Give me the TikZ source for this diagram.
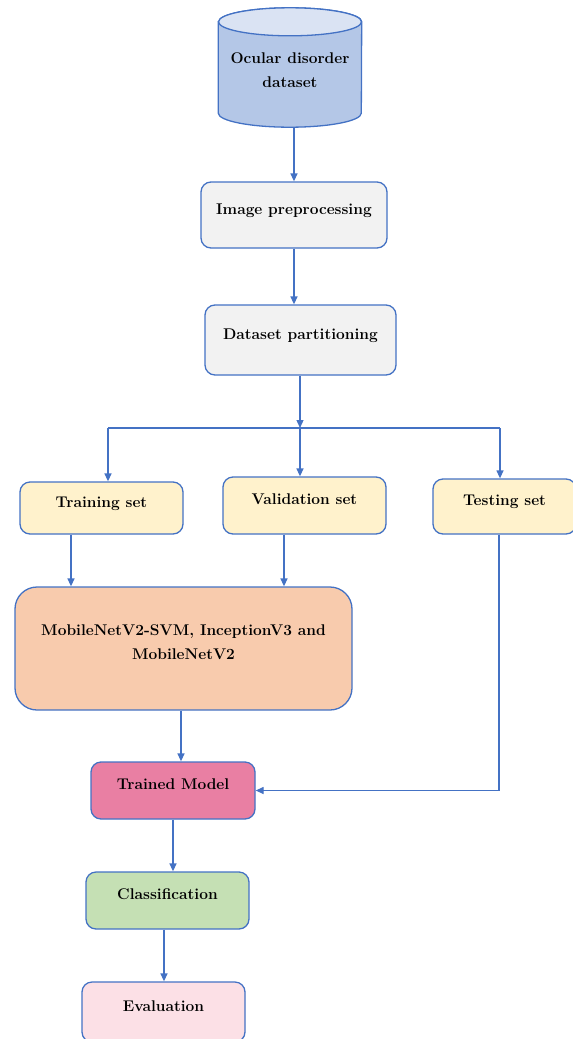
\documentclass[tikz,border=0pt]{standalone}
\usepackage{tikz}
\usetikzlibrary{arrows.meta,backgrounds}

\definecolor{lineblue}{HTML}{4472C4}
\definecolor{cylbody}{HTML}{B4C7E7}
\definecolor{cyltop}{HTML}{DAE3F3}
\definecolor{boxgray}{HTML}{F2F2F2}
\definecolor{boxyellow}{HTML}{FFF2CC}
\definecolor{boxpeach}{HTML}{F8CBAD}
\definecolor{boxpink}{HTML}{E97FA3}
\definecolor{boxgreen}{HTML}{C5E0B4}
\definecolor{boxrose}{HTML}{FCE0E6}

\begin{document}
\begin{tikzpicture}[x=1pt, y=-1pt,
  label font/.style={font=\fontsize{15.5}{24}\selectfont\bfseries},
  box/.style={draw=lineblue, line width=1.3pt, rounded corners=10pt, align=center, label font,
    execute at end node={\rule[-12pt]{0pt}{12pt}}},
  arr/.style={draw=lineblue, line width=1.3pt, -{Triangle[length=8pt,width=7pt]}},
  link/.style={draw=lineblue, line width=1.3pt}]
%\draw[help lines, step=50] (0, 0) grid (573, 1039);
\useasboundingbox (0, 0) rectangle (573, 1039);

% dataset cylinder
\node (data) [minimum width=143pt, minimum height=119pt, align=center, label font] at (290, 67.5)
  {\rule{0pt}{16pt}Ocular disorder\\dataset};
\begin{scope}[on background layer]
\filldraw [fill=cylbody, draw=lineblue, line width=1.3pt]
  ([yshift=-14pt]data.north west) -- ([yshift=14pt]data.south west)
  arc [start angle=180, end angle=360, x radius=71.5pt, y radius=14pt]
  -- ([yshift=-14pt]data.north east)
  arc [start angle=0, end angle=180, x radius=71.5pt, y radius=14pt] -- cycle;
\filldraw [fill=cyltop, draw=lineblue, line width=1.3pt]
  ([yshift=-14pt]data.north) ellipse [x radius=71.5pt, y radius=14pt];
\end{scope}

\node (pre) [box, fill=boxgray, minimum width=186pt, minimum height=66pt] at (294, 215) {Image preprocessing};
\node (part) [box, fill=boxgray, minimum width=191pt, minimum height=70pt] at (300.5, 340) {Dataset partitioning};

\node (train) [box, fill=boxyellow, minimum width=163pt, minimum height=52pt] at (101.5, 508) {Training set};
\node (val) [box, fill=boxyellow, minimum width=163pt, minimum height=57pt] at (304.5, 505.5) {Validation set};
\node (test) [box, fill=boxyellow, minimum width=143pt, minimum height=55pt] at (504.5, 506.5) {Testing set};

\node (model) [box, fill=boxpeach, rounded corners=22pt, minimum width=337pt, minimum height=123pt,
  execute at end node={\rule[-6pt]{0pt}{6pt}}] at (183.5, 648.5)
  {MobileNetV2-SVM, InceptionV3 and\\MobileNetV2};

\node (trained) [box, fill=boxpink, minimum width=164pt, minimum height=57pt] at (173, 790.5) {Trained Model};
\node (cls) [box, fill=boxgreen, minimum width=163pt, minimum height=57pt] at (167.5, 900.5) {Classification};
\node (eval) [box, fill=boxrose, minimum width=163pt, minimum height=60pt] at (163.5, 1012) {Evaluation};

\coordinate (split) at (300, 428);
\coordinate (left) at (108, 428);
\coordinate (right) at (500, 428);

\draw [arr] (data.south -| pre.north) -- (pre.north);
\draw [arr] (pre.south) -- (pre.south |- part.north);
\draw [arr] (part.south -| split) -- (split);
\draw [link] (left) -- (right);
\draw [arr] (left) -- (left |- train.north);
\draw [arr] (split) -- (split |- val.north);
\draw [arr] (right) -- (right |- test.north);
\draw [arr] ([xshift=-30.5pt]train.south) -- ([xshift=-30.5pt]train.south |- model.north);
\draw [arr] ([xshift=-20.5pt]val.south) -- ([xshift=-20.5pt]val.south |- model.north);
\draw [arr] ([xshift=-5.5pt]test.south) |- (trained.east);
\draw [arr] ([xshift=-2.5pt]model.south) -- ([xshift=-2.5pt]model.south |- trained.north);
\draw [arr] (trained.south) -- (trained.south |- cls.north);
\draw [arr] ([xshift=-3.5pt]cls.south) -- ([xshift=-3.5pt]cls.south |- eval.north);
\end{tikzpicture}
\end{document}
